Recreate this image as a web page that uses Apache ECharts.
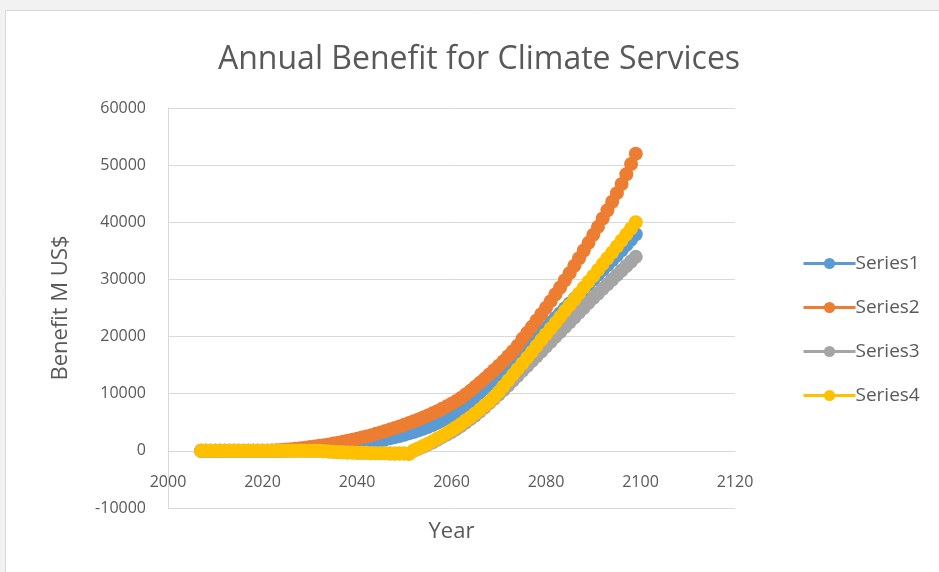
<!DOCTYPE html>
<html>
<head>
<meta charset="utf-8">
<script src="https://cdn.jsdelivr.net/npm/echarts@6/dist/echarts.min.js"></script>
<style>
html,body{margin:0;padding:0;background:#f2f2f2;}
#chart{width:939px;height:572px;}
</style>
</head>
<body>
<div id="chart"></div>
<script>
const years = [2007,2008,2009,2010,2011,2012,2013,2014,2015,2016,2017,2018,2019,2020,2021,2022,2023,2024,2025,2026,2027,2028,2029,2030,2031,2032,2033,2034,2035,2036,2037,2038,2039,2040,2041,2042,2043,2044,2045,2046,2047,2048,2049,2050,2051,2052,2053,2054,2055,2056,2057,2058,2059,2060,2061,2062,2063,2064,2065,2066,2067,2068,2069,2070,2071,2072,2073,2074,2075,2076,2077,2078,2079,2080,2081,2082,2083,2084,2085,2086,2087,2088,2089,2090,2091,2092,2093,2094,2095,2096,2097,2098,2099];

const series1 = [0,0,0,0,0,0,0,0,0,0,0,0,0,0,0,0,0,20,50,90,130,180,230,290,350,420,490,570,650,740,840,940,1050,1160,1280,1410,1550,1700,1860,2030,2210,2400,2600,2820,3060,3310,3580,3870,4180,4520,4890,5290,5720,6180,6750,7350,8000,8700,9450,10200,10950,11750,12550,13350,14150,14950,15750,16550,17350,18150,19000,19850,20700,21550,22400,23250,24100,24950,25800,26600,27400,28250,29100,29950,30800,31650,32500,33350,34200,35100,36000,36950,37900];

const series2 = [0,0,0,0,0,0,0,0,0,0,0,0,0,0,0,50,100,160,230,300,380,470,560,660,770,880,1000,1130,1270,1420,1580,1750,1930,2120,2320,2530,2750,2980,3220,3470,3730,4000,4280,4570,4870,5180,5500,5840,6190,6560,6950,7360,7790,8240,8710,9250,9850,10500,11200,11900,12600,13350,14100,14900,15700,16550,17450,18400,19600,20650,21700,22800,23900,25050,26200,27400,28600,29850,31100,32400,33700,35050,36400,37800,39200,40650,42100,43600,45100,46700,48400,50200,52000];

const series3 = [0,0,0,0,0,0,0,0,0,0,0,0,0,0,0,0,0,0,0,0,0,0,0,0,0,0,-50,-100,-150,-200,-250,-300,-300,-350,-350,-350,-400,-400,-400,-400,-450,-450,-450,-450,-500,0,350,700,1100,1500,1950,2400,2850,3300,3800,4350,4950,5550,6200,6900,7600,8350,9100,9850,10650,11450,12300,13150,14000,14850,15700,16550,17400,18250,19100,19950,20800,21650,22500,23350,24200,25050,25900,26750,27550,28350,29150,29950,30750,31550,32350,33150,33950];

const series4 = [0,0,0,0,0,0,0,0,0,0,0,0,0,0,0,0,0,0,0,0,0,0,0,0,0,0,-50,-100,-150,-200,-250,-300,-300,-350,-350,-350,-400,-400,-400,-400,-450,-450,-450,-450,-500,50,450,850,1250,1700,2150,2600,3100,3600,4150,4700,5300,5900,6550,7200,7900,8600,9400,10300,11300,12300,13300,14300,15300,16300,17300,18350,19400,20400,21400,22400,23450,24500,25500,26500,27550,28600,29600,30600,31650,32700,33700,34700,35750,36800,37850,38900,40000];

const seriesNames = ['Series1','Series2','Series3','Series4'];
const seriesColors = ['#5B9BD5','#ED7D31','#A5A5A5','#FFC000'];
const seriesValues = [series1, series2, series3, series4];

const titleText = 'Annual Benefit for Climate Services';
const xName = 'Year';
const yName = 'Benefit M US$';

const FONT = 'Open Sans';
const GREY = '#595959';

const chart = echarts.init(document.getElementById('chart'), null, {renderer: 'canvas'});

const option = {
  animation: false,
  backgroundColor: '#f2f2f2',
  graphic: [{
    type: 'rect',
    left: 5, top: 10,
    shape: {width: 960, height: 600},
    style: {fill: '#ffffff', stroke: '#d9d9d9', lineWidth: 1},
    z: -10
  }],
  title: {
    text: titleText,
    left: 213, top: 39,
    textStyle: {fontFamily: FONT, fontSize: 32, fontWeight: 'normal', color: GREY}
  },
  legend: {
    orient: 'vertical',
    left: 797, top: 249,
    itemWidth: 52, itemHeight: 14,
    itemGap: 25,
    lineStyle: {width: 3},
    textStyle: {fontFamily: FONT, fontSize: 19, color: GREY, padding: [0,0,0,-5]},
    data: seriesNames
  },
  grid: {left: 168, right: 204, top: 108, bottom: 64, containLabel: false, outerBoundsMode: 'none'},
  xAxis: {
    type: 'value', min: 2000, max: 2120, interval: 20,
    position: 'bottom', offset: -57,
    name: xName, nameLocation: 'middle', nameGap: 70,
    nameTextStyle: {fontFamily: FONT, fontSize: 22, color: GREY},
    axisLine: {show: true, onZero: false, lineStyle: {color: '#d9d9d9', width: 1}},
    axisTick: {show: false},
    splitLine: {show: false},
    axisLabel: {fontFamily: FONT, fontSize: 16, color: GREY, margin: 23, formatter: v => String(v)}
  },
  yAxis: {
    type: 'value', min: -10000, max: 60000, interval: 10000,
    name: yName, nameLocation: 'middle', nameGap: 96,
    nameTextStyle: {fontFamily: FONT, fontSize: 22, color: GREY},
    axisLine: {show: true, onZero: false, lineStyle: {color: '#d9d9d9', width: 1}},
    axisTick: {show: false},
    splitLine: {show: true, lineStyle: {color: '#d9d9d9', width: 1}},
    axisLabel: {fontFamily: FONT, fontSize: 16, color: GREY, margin: 22, formatter: v => String(v)}
  },
  series: seriesNames.map((name, i) => ({
    name: name,
    type: 'line',
    data: years.map((y, j) => [y, seriesValues[i][j]]),
    symbol: 'circle',
    symbolSize: 14,
    showAllSymbol: true,
    color: seriesColors[i],
    lineStyle: {width: 7, color: seriesColors[i]},
    itemStyle: {color: seriesColors[i]}
  }))
};
chart.setOption(option);
</script>
</body>
</html>
